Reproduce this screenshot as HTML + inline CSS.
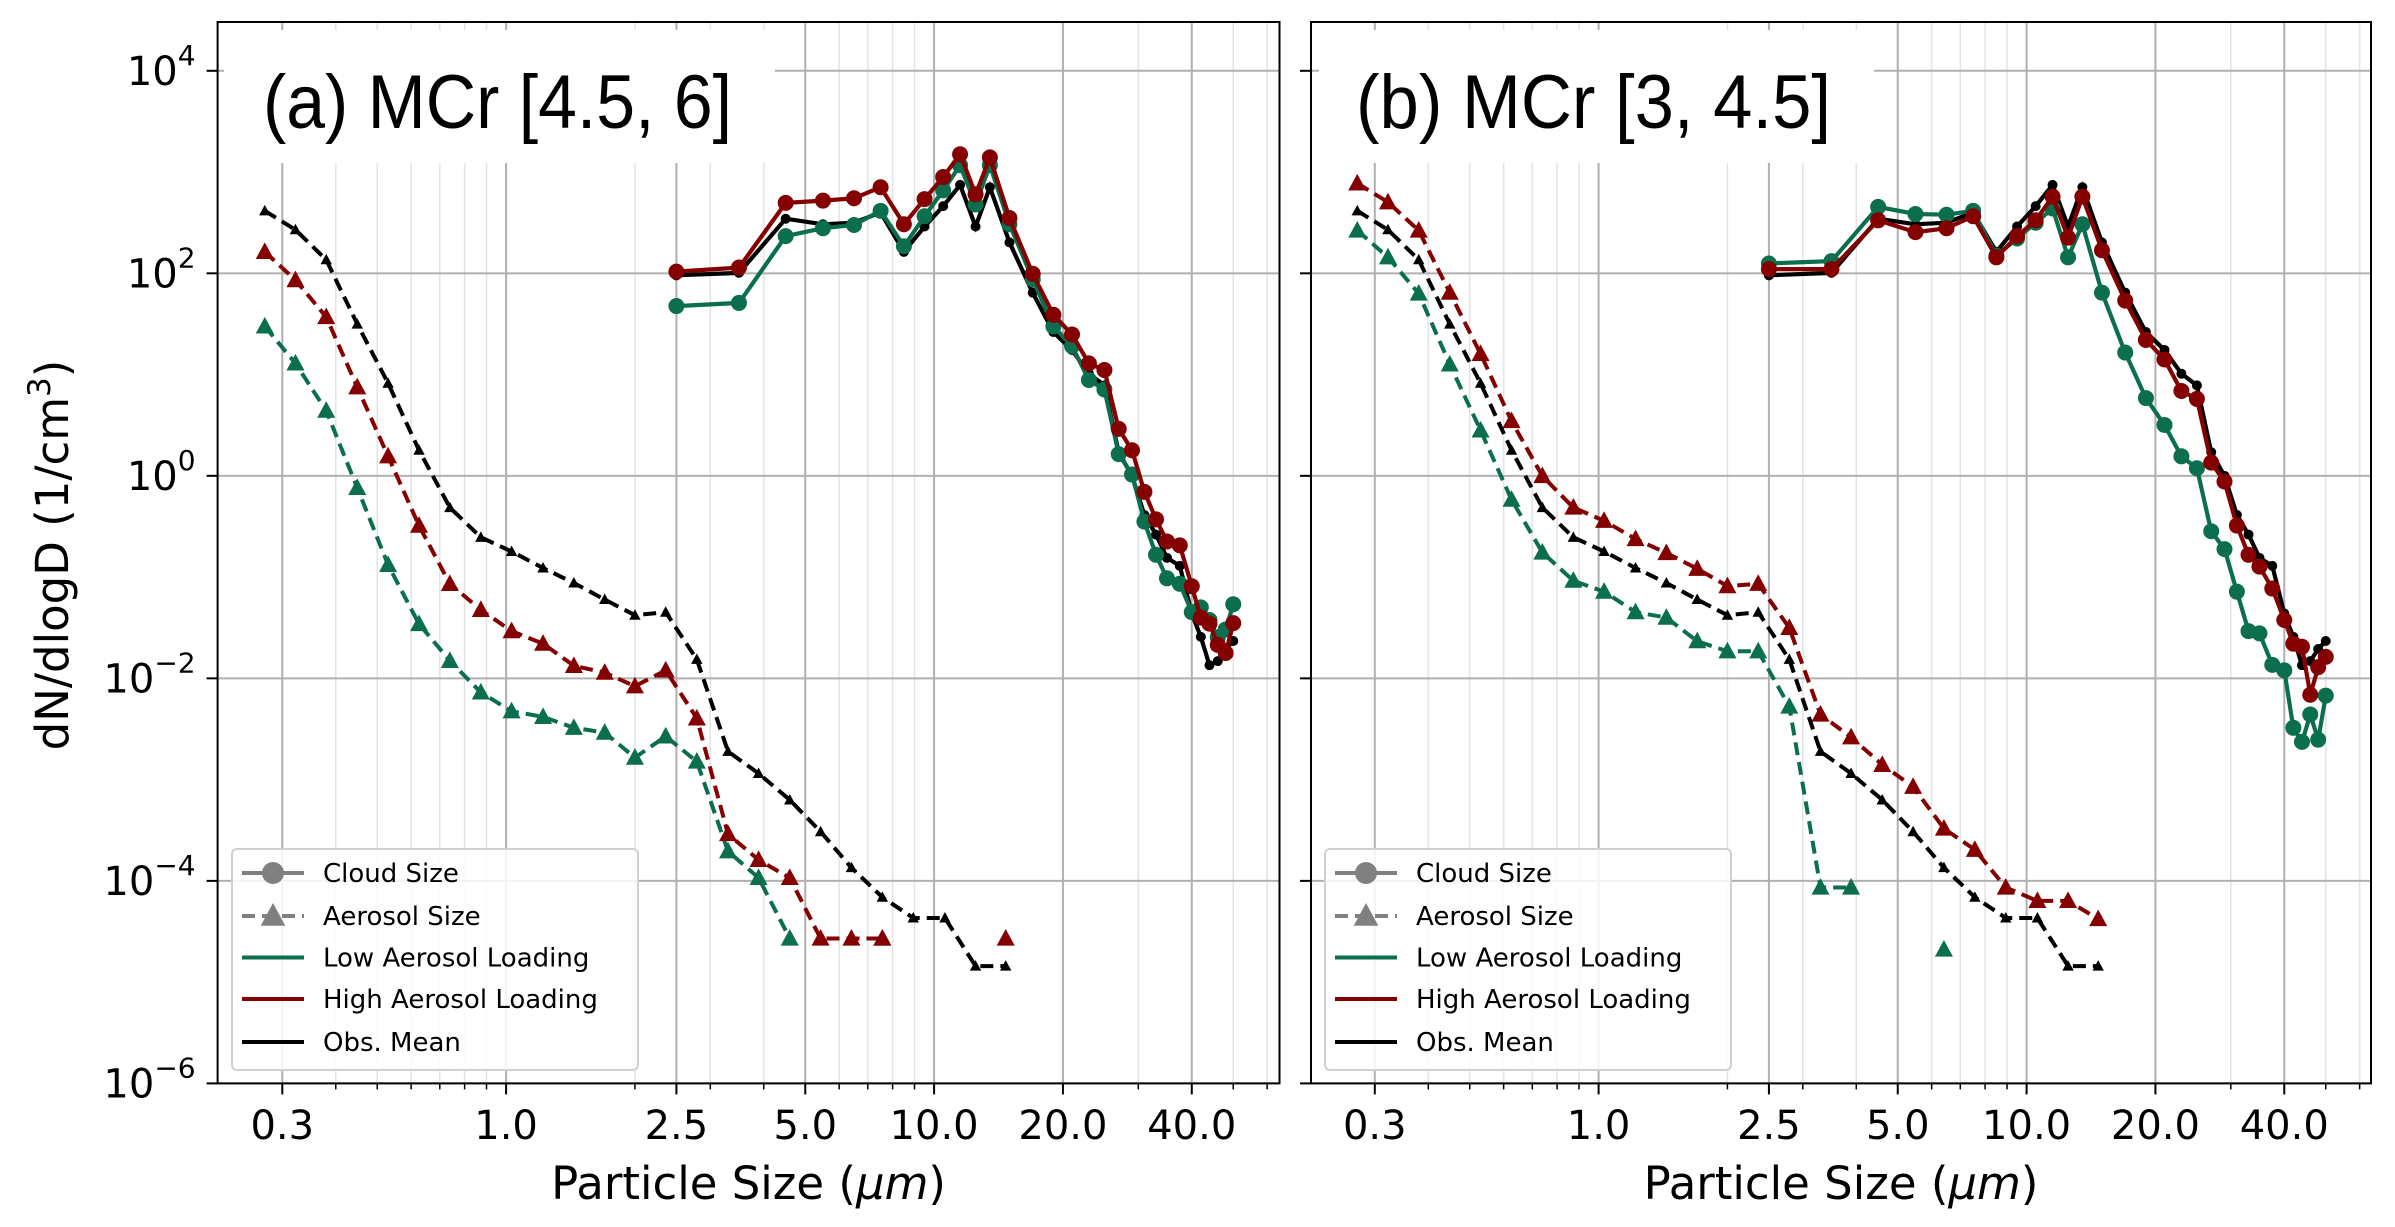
<!DOCTYPE html>
<html><head><meta charset="utf-8"><style>
html,body{margin:0;padding:0;background:#fff;}
svg{display:block;}
text{font-family:"DejaVu Sans","Liberation Sans",sans-serif;}
</style></head><body>
<svg id="chart" xmlns="http://www.w3.org/2000/svg" width="2395" height="1227" viewBox="0 0 2395 1227"></svg>
<script>
// ---------- data ----------
const aerosolSizes = [0.273,0.322,0.380,0.449,0.530,0.626,0.739,0.873,1.03,1.22,1.44,1.70,2.00,2.36,2.79,3.30,3.89,4.60,5.43,6.41,7.57,8.94,10.6,12.5,14.7];
const cloudSizes = [2.5,3.5,4.5,5.5,6.5,7.5,8.5,9.5,10.5,11.5,12.5,13.5,15,17,19,21,23,25,27,29,31,33,35,37.5,40,42,44,46,48,50];

const aerosolObs = [414,269,136,31.5,8.2,1.79,0.486,0.247,0.179,0.123,0.0875,0.0601,0.042,0.045,0.0154,0.0019,0.00115,6.3e-4,3.06e-4,1.35e-4,6.9e-5,4.3e-5,4.3e-5,1.44e-5,1.44e-5];
const aerosolHighA = [163,85.7,37,7.5,1.56,0.322,0.0857,0.0475,0.0293,0.022,0.0133,0.0114,0.00836,0.012,0.00403,2.9e-4,1.61e-4,1.07e-4,2.7e-5,2.7e-5,2.7e-5,null,null,null,2.7e-5];
const aerosolLowA = [29.9,12.9,4.4,0.76,0.132,0.0344,0.0149,0.00727,0.00473,0.00417,0.00325,0.00291,0.00165,0.00267,0.00151,1.96e-4,1.07e-4,2.7e-5,null,null,2.7e-5,null,null,null,null];
const aerosolHighB = [774,504,265,64.4,16,3.48,0.995,0.487,0.36,0.238,0.173,0.121,0.0815,0.0859,0.0315,0.0044,0.00262,0.0014,8.5e-4,3.29e-4,2.03e-4,8.6e-5,6.35e-5,6.35e-5,4.2e-5];
const aerosolLowB = [265,144,63.2,12.6,2.81,0.582,0.175,0.0922,0.0718,0.0451,0.0398,0.0233,0.0185,0.0185,0.00527,8.6e-5,8.6e-5,null,null,2.1e-5,null,null,null,null,null];

const cloudObs = [95.5,101,346,305,316,399,163,290,461,747,290,708,202,64.4,26.3,17.5,10.2,7.82,1.71,1.0,0.41,0.263,0.155,0.129,0.0437,0.0257,0.0135,0.0148,0.0195,0.0234];
const cloudHighA = [104,114,496,523,551,708,305,541,893,1500,603,1396,352,98.9,39,24.9,12.9,11.1,2.91,1.79,0.695,0.372,0.225,0.206,0.0813,0.0398,0.0347,0.0214,0.0178,0.0351];
const cloudLowA = [47.5,51,233,279,300,414,185,366,659,1169,478,1169,305,87.3,29.9,19.1,8.85,7.13,1.64,1.03,0.353,0.166,0.0973,0.0859,0.0451,0.0502,0.0377,0.0255,0.0304,0.054];
const cloudHighB = [110,110,334,255,279,366,144,233,334,572,225,572,169,53.8,22,14.1,6.89,5.75,1.35,0.879,0.323,0.166,0.127,0.0771,0.0377,0.022,0.0205,0.00689,0.0129,0.0163];
const cloudLowB = [125,132,453,385,379,414,149,221,316,437,144,305,64.4,16.5,5.86,3.18,1.56,1.19,0.284,0.189,0.0718,0.0293,0.0278,0.0136,0.012,0.00325,0.00236,0.0044,0.00248,0.00676];

const xTickValues = [0.3,1.0,2.5,5.0,10.0,20.0,40.0];
const xTickLabels = ["0.3","1.0","2.5","5.0","10.0","20.0","40.0"];
const xMinorValues = [0.4,0.5,0.6,0.7,0.8,0.9,2,3,4,6,7,8,9,30,50,60];
const yTickExps = [4,2,0,-2,-4,-6];

// ---------- layout ----------
const NS = "http://www.w3.org/2000/svg";
const svg = document.getElementById('chart');
const GREEN = "#0b6e4f", RED = "#850000", BLACK = "#000";
const Y0 = 22, Y1 = 1083.4, PXDEC_Y = 101.26, PXDEC_X = 428;
function yMap(v){ return 70.8 + (4 - Math.log10(v)) * PXDEC_Y; }
function el(tag, attrs, parent){
  const e = document.createElementNS(NS, tag);
  for (const k in attrs) e.setAttribute(k, attrs[k]);
  (parent || svg).appendChild(e);
  return e;
}

const panels = [
  {id:'a', x0:217.6, x1:1279.5, ref:282.3, title:"(a) MCr [4.5, 6]", titleBox:[224,30,551,133], titleX:263, titleW:469,
   aer:[[aerosolLowA,GREEN],[aerosolHighA,RED],[aerosolObs,BLACK]],
   cld:[[cloudObs,BLACK],[cloudLowA,GREEN],[cloudHighA,RED]], legendX:232, yLabels:true},
  {id:'b', x0:1311, x1:2371, ref:1374.8, title:"(b) MCr [3, 4.5]", titleBox:[1319,30,555,133], titleX:1356, titleW:475,
   aer:[[aerosolLowB,GREEN],[aerosolHighB,RED],[aerosolObs,BLACK]],
   cld:[[cloudObs,BLACK],[cloudLowB,GREEN],[cloudHighB,RED]], legendX:1325, yLabels:false}
];

function tri(g, x, y, s, color){
  return el('polygon', {points:`${x},${y-s} ${x-s*0.95},${y+s*0.75} ${x+s*0.95},${y+s*0.75}`, fill:color}, g);
}

panels.forEach(P => {
  const xMap = v => P.ref + Math.log10(v/0.3) * PXDEC_X;
  const g = el('g', {});
  
  
  const clipId = 'clip' + P.id;
  const cp = el('clipPath', {id:clipId}, g);
  el('rect', {x:P.x0, y:Y0, width:P.x1-P.x0, height:Y1-Y0}, cp);

  const grid = el('g', {'clip-path':`url(#${clipId})`}, g);
  
  
  xMinorValues.forEach(v => {
    const x = xMap(v);
    const l = el('line', {x1:x, x2:x, y1:Y0, y2:Y1, stroke:'#e3e3e3', 'stroke-width':1.5}, grid);
    
    
  });
  xTickValues.forEach(v => {
    const x = xMap(v);
    const l = el('line', {x1:x, x2:x, y1:Y0, y2:Y1, stroke:'#b0b0b0', 'stroke-width':2}, grid);
    
    
  });
  yTickExps.forEach(e => {
    const y = yMap(Math.pow(10, e));
    const l = el('line', {x1:P.x0, x2:P.x1, y1:y, y2:y, stroke:'#b0b0b0', 'stroke-width':2}, grid);
    
    
  });

  const tb = P.titleBox;
  const tr = el('rect', {x:tb[0], y:tb[1], width:tb[2], height:tb[3], fill:'#fff'}, g);
  
  
  const tt = el('text', {x:P.titleX, y:128, 'font-size':76, textLength:P.titleW, lengthAdjust:'spacingAndGlyphs', style:'font-family:"Liberation Sans",sans-serif', fill:'#000'}, g);
  tt.textContent = P.title;
  
  

  const plot = el('g', {'clip-path':`url(#${clipId})`}, g);
  
  

  P.aer.forEach(([vals, color]) => {
    const sg = el('g', {}, plot);
    
    
    const small = color === BLACK;
    let d = '', pen = false;
    vals.forEach((v, i) => {
      if (v == null) { pen = false; return; }
      d += (pen ? 'L' : 'M') + xMap(aerosolSizes[i]).toFixed(1) + ' ' + yMap(v).toFixed(1) + ' ';
      pen = true;
    });
    const path = el('path', {d:d, fill:'none', stroke:color, 'stroke-width':4, 'stroke-dasharray':'13 7'}, sg);
    
    
    vals.forEach((v, i) => {
      if (v == null) return;
      const m = tri(sg, xMap(aerosolSizes[i]), yMap(v), small ? 6 : 9.5, color);
      
      
    });
  });

  P.cld.forEach(([vals, color]) => {
    const sg = el('g', {}, plot);
    
    
    const small = color === BLACK;
    let d = '';
    vals.forEach((v, i) => { d += (i ? 'L' : 'M') + xMap(cloudSizes[i]).toFixed(1) + ' ' + yMap(v).toFixed(1) + ' '; });
    const path = el('path', {d:d, fill:'none', stroke:color, 'stroke-width':4.2}, sg);
    
    
    vals.forEach((v, i) => {
      const c = el('circle', {cx:xMap(cloudSizes[i]), cy:yMap(v), r: small ? 5 : 8, fill:color}, sg);
      
      
    });
  });

  const sp = el('rect', {x:P.x0, y:Y0, width:P.x1-P.x0, height:Y1-Y0, fill:'none', stroke:'#000', 'stroke-width':2}, g);
  
  

  xMinorValues.forEach(v => {
    const x = xMap(v);
    const t = el('line', {x1:x, x2:x, y1:Y1, y2:Y1+6, stroke:'#000', 'stroke-width':1.5}, g);
    
    
  });
  xTickValues.forEach((v, i) => {
    const x = xMap(v);
    const t = el('line', {x1:x, x2:x, y1:Y1, y2:Y1+11, stroke:'#000', 'stroke-width':2}, g);
    
    
    const lb = el('text', {x:x, y:1139, 'font-size':40, 'text-anchor':'middle', fill:'#000'}, g);
    lb.textContent = xTickLabels[i];
    
    
  });
  yTickExps.forEach(e => {
    const y = yMap(Math.pow(10, e));
    const t = el('line', {x1:P.x0-11, x2:P.x0, y1:y, y2:y, stroke:'#000', 'stroke-width':2}, g);
    
    
    if (P.yLabels) {
      const lb = el('text', {x:P.x0-22, y:y+14, 'font-size':40, 'text-anchor':'end', fill:'#000'}, g);
      
      
      const base = el('tspan', {}, lb); base.textContent = '10';
      const sup = el('tspan', {dy:-20, 'font-size':28}, lb); sup.textContent = (e < 0 ? '\u2212' + (-e) : String(e));
    }
  });

  const xl = el('text', {x:(P.x0+P.x1)/2, y:1199, 'font-size':45, 'text-anchor':'middle', fill:'#000'}, g);
  
  
  const xa = el('tspan', {}, xl); xa.textContent = 'Particle Size (';
  const xb = el('tspan', {'font-style':'italic'}, xl); xb.textContent = '\u03bcm';
  const xc = el('tspan', {}, xl); xc.textContent = ')';

  const L = el('g', {}, g);
  
  
  const lx = P.legendX;
  el('rect', {x:lx, y:849, width:406, height:221, rx:5, fill:'rgba(255,255,255,0.85)', stroke:'#d0d0d0', 'stroke-width':2}, L);
  const entries = [
    {label:'Cloud Size', color:'#808080', dash:null, marker:'circle'},
    {label:'Aerosol Size', color:'#808080', dash:'13 7', marker:'tri'},
    {label:'Low Aerosol Loading', color:GREEN, dash:null, marker:null},
    {label:'High Aerosol Loading', color:RED, dash:null, marker:null},
    {label:'Obs. Mean', color:BLACK, dash:null, marker:null}
  ];
  const rowsY = [873, 916, 957.5, 999, 1042];
  entries.forEach((en, i) => {
    const eg = el('g', {}, L);
    
    
    const y = rowsY[i];
    const a = {x1:lx+10, x2:lx+72, y1:y, y2:y, stroke:en.color, 'stroke-width':4};
    if (en.dash) a['stroke-dasharray'] = en.dash;
    el('line', a, eg);
    if (en.marker === 'circle') el('circle', {cx:lx+41, cy:y, r:11, fill:en.color}, eg);
    if (en.marker === 'tri') tri(eg, lx+41, y, 13, en.color);
    const t = el('text', {x:lx+91, y:y+9, 'font-size':26, fill:'#000'}, eg);
    t.textContent = en.label;
  });
});

const yl = el('text', {transform:'translate(68,555) rotate(-90)', 'font-size':45, 'text-anchor':'middle', fill:'#000'});


const y1s = el('tspan', {}, yl); y1s.textContent = 'dN/dlogD (1/cm';
const y2s = el('tspan', {dy:-18, 'font-size':31}, yl); y2s.textContent = '3';
const y3s = el('tspan', {dy:18}, yl); y3s.textContent = ')';
</script>
</body></html>
